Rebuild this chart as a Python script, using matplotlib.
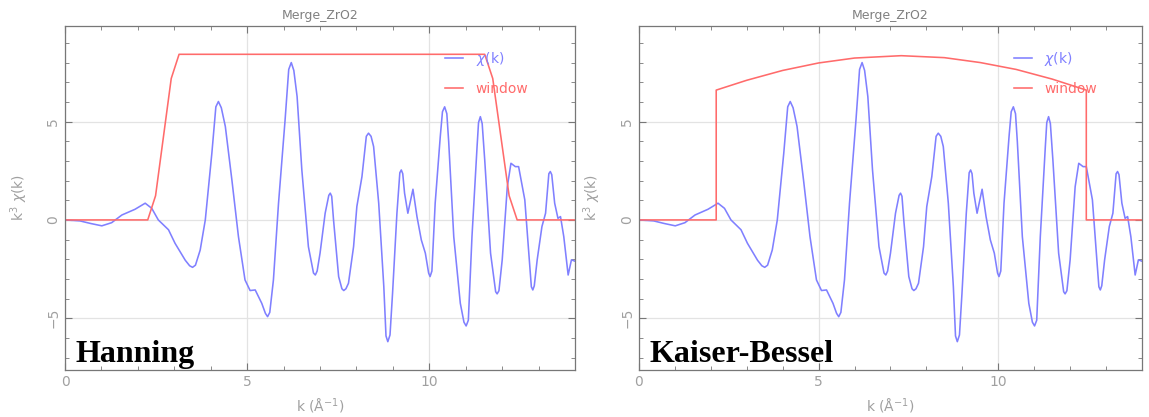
import matplotlib
matplotlib.use('Agg')
import matplotlib.pyplot as plt
from matplotlib.ticker import MultipleLocator

# chi(k) (same curve in both panels)
chi_k = [0.0, 0.41, 0.7, 1.01, 1.28, 1.56, 1.92, 2.2, 2.38, 2.56, 2.84, 3.02, 3.3, 3.42,
         3.5, 3.58, 3.71, 3.85, 4.03, 4.14, 4.21, 4.29, 4.40, 4.58, 4.76, 4.94, 5.08,
         5.22, 5.40, 5.50, 5.56, 5.62, 5.72, 5.86, 6.04, 6.14, 6.21, 6.28, 6.37, 6.50,
         6.68, 6.82, 6.87, 6.92, 7.0, 7.14, 7.24, 7.28, 7.32, 7.37, 7.51, 7.60, 7.65,
         7.71, 7.78, 7.92, 8.01, 8.15, 8.27, 8.33, 8.40, 8.47, 8.61, 8.75, 8.81, 8.86,
         8.92, 8.99, 9.11, 9.19, 9.23, 9.27, 9.32, 9.41, 9.55, 9.66, 9.78, 9.89, 9.98,
         10.02, 10.07, 10.16, 10.30, 10.36, 10.42, 10.48, 10.53, 10.67, 10.85, 10.95,
         11.01, 11.07, 11.17, 11.31, 11.35, 11.40, 11.45, 11.52, 11.68, 11.82, 11.86,
         11.91, 12.0, 12.14, 12.24, 12.36, 12.45, 12.62, 12.73, 12.80, 12.84, 12.88,
         12.96, 13.09, 13.19, 13.28, 13.32, 13.36, 13.44, 13.53, 13.60, 13.69, 13.81,
         13.90, 14.0]
chi_v = [0.0, -0.05, -0.18, -0.3, -0.14, 0.25, 0.54, 0.85, 0.59, 0.0, -0.5, -1.19, -2.05,
         -2.33, -2.41, -2.3, -1.53, 0.0, 3.39, 5.75, 6.02, 5.7, 4.75, 2.03, -0.85, -3.05,
         -3.59, -3.56, -4.24, -4.75, -4.92, -4.7, -3.05, 0.85, 5.08, 7.65, 8.0, 7.6, 6.27,
         2.54, -1.36, -2.7, -2.8, -2.6, -1.69, 0.34, 1.25, 1.36, 1.2, 0.0, -2.88, -3.5,
         -3.59, -3.5, -3.22, -1.36, 0.68, 2.2, 4.25, 4.41, 4.25, 3.73, 0.85, -3.39, -5.9,
         -6.19, -5.85, -3.73, 0.34, 2.4, 2.54, 2.35, 1.36, 0.34, 1.56, 0.17, -1.02, -1.69,
         -2.7, -2.88, -2.6, 0.85, 4.24, 5.5, 5.75, 5.4, 4.0, -0.85, -4.24, -5.2, -5.39,
         -5.1, -0.85, 3.73, 4.95, 5.25, 4.9, 3.05, -1.69, -3.65, -3.76, -3.6, -2.03, 1.69,
         2.88, 2.71, 2.71, 1.02, -1.69, -3.4, -3.56, -3.35, -2.03, -0.34, 0.34, 2.35,
         2.46, 2.3, 0.85, 0.08, 0.17, -0.85, -2.8, -2.03, -2.1]

# Hanning window
han_k = [0.0, 2.27, 2.485, 2.70, 2.915, 3.13, 11.52, 11.74, 11.965, 12.19, 12.41, 14.0]
han_v = [0.0, 0.0, 1.23, 4.21, 7.19, 8.42, 8.42, 7.19, 4.21, 1.23, 0.0, 0.0]

# Kaiser-Bessel window
kb_k = [0.0, 2.15, 2.15, 3.0, 4.0, 5.0, 6.0, 7.3, 8.5, 9.5, 10.5, 11.5, 12.45, 12.45, 14.0]
kb_v = [0.0, 0.0, 6.6, 7.1, 7.6, 7.98, 8.23, 8.35, 8.25, 8.0, 7.65, 7.16, 6.6, 0.0, 0.0]

panels = [('Hanning', han_k, han_v), ('Kaiser-Bessel', kb_k, kb_v)]

fig = plt.figure(figsize=(11.49, 4.17), dpi=100)
boxes = [[0.0566, 0.1127, 0.4439, 0.825], [0.5561, 0.1127, 0.4378, 0.825]]

gray = '#a0a0a0'
for box, (name, wk, wv) in zip(boxes, panels):
    ax = fig.add_axes(box)
    ax.plot(chi_k, chi_v, color='#8080ff', lw=1.15, label=r'$\chi$(k)')
    ax.plot(wk, wv, color='#ff6b6b', lw=1.15, label='window')
    ax.set_xlim(0, 14)
    ax.set_ylim(-7.63, 9.86)
    ax.xaxis.set_major_locator(MultipleLocator(5))
    ax.xaxis.set_minor_locator(MultipleLocator(1))
    ax.yaxis.set_major_locator(MultipleLocator(5))
    ax.yaxis.set_minor_locator(MultipleLocator(1))
    ax.grid(True, which='major', color='#e3e3e3', lw=0.9)
    ax.set_axisbelow(True)
    ax.tick_params(which='both', direction='in', top=True, right=True,
                   colors='#777777', labelcolor=gray, labelsize=10)
    ax.tick_params(which='major', length=5)
    ax.tick_params(which='minor', length=3)
    for lab in ax.get_yticklabels():
        lab.set_rotation(90)
        lab.set_va('center')
    for sp in ax.spines.values():
        sp.set_color('#777777')
        sp.set_linewidth(0.9)
    ax.set_title('Merge_ZrO2', fontsize=9, color='#808080', pad=5)
    ax.set_xlabel(r'k ($\mathrm{\AA}^{-1}$)', fontsize=10, color=gray, labelpad=6)
    ax.set_ylabel(r'k$^3$ $\chi$(k)', fontsize=10, color=gray, labelpad=12)
    ax.legend(loc='upper left', bbox_to_anchor=(0.745, 0.93), frameon=False,
              fontsize=10, labelcolor='linecolor', handlelength=1.3,
              handletextpad=0.9, labelspacing=1.0, borderpad=0, borderaxespad=0)
    ax.text(0.02, 0.023, name, transform=ax.transAxes, fontsize=23,
            fontweight='bold', family='Liberation Serif', va='baseline', ha='left')

fig.savefig('out.png', dpi=100)
